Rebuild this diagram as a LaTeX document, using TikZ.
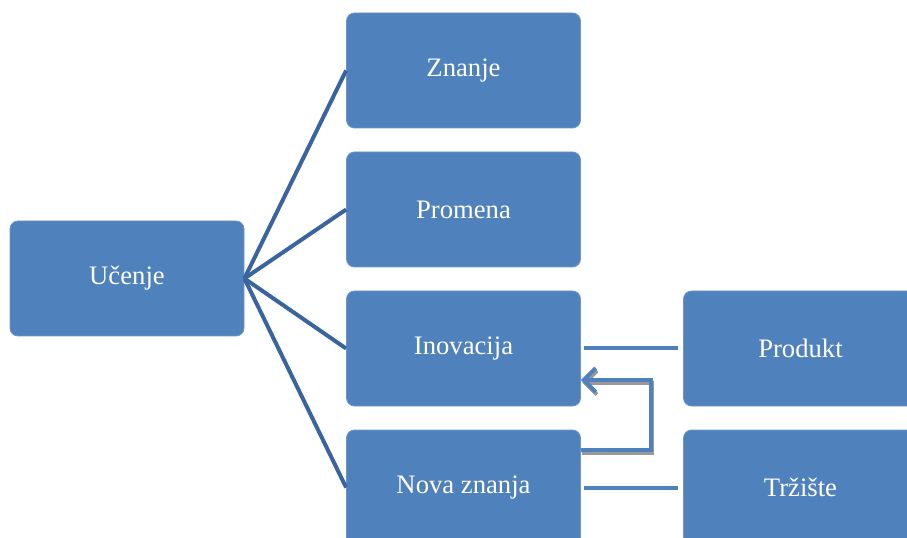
\documentclass[tikz,border=0pt]{standalone}
\usepackage{fontspec}
\setmainfont{Liberation Serif}
\usetikzlibrary{arrows.meta}

\definecolor{boxblue}{RGB}{79,129,189}
\definecolor{boxedge}{RGB}{110,150,205}
\definecolor{linkblue}{RGB}{58,100,160}

\begin{document}
\begin{tikzpicture}[
  x=0.75pt, y=-0.75pt,
  every node/.style={font=\fontsize{20}{24}\selectfont},
  box/.style={fill=boxblue, draw=boxedge, line width=0.6pt, rounded corners=6pt,
    minimum width=175.5pt, minimum height=86.25pt, text=white, align=center},
  branch/.style={draw=linkblue, line width=3pt},
  link/.style={draw=boxblue, line width=3pt},
  feedback/.style={draw=boxblue, line width=3pt, -{Straight Barb[length=9pt,width=18pt]},
    preaction={draw=black!40, line width=3pt, transform canvas={shift={(1pt,-2pt)}}}}
]
  \clip (0,0) rectangle (907,538);
  \node[box] (ucenje) at (127,278.5) {Učenje};
  \node[box] (znanje) at (463.5,70.5) {Znanje};
  \node[box] (promena) at (463.5,209.5) {Promena};
  \node[box] (inov) at (463.5,348.5) {Inovacija};
  \node[box] (nova) at (463.5,487.5) {Nova znanja};
  \node[box] (produkt) at (800.5,348.5) {Produkt};
  \node[box] (trziste) at (800.5,487.5) {Tržište};
  \coordinate (fbLow) at (651,450);
  \coordinate (fbHigh) at (651,380);

  \draw[branch] (ucenje.east) -- (znanje.west);
  \draw[branch] (ucenje.east) -- (promena.west);
  \draw[branch] (ucenje.east) -- (inov.west);
  \draw[branch] (ucenje.east) -- (nova.west);
  \draw[link] ([xshift=2pt]inov.east) -- ([xshift=-4pt]produkt.west);
  \draw[link] ([xshift=2pt]nova.east) -- ([xshift=-4pt]trziste.west);
  \draw[feedback] (nova.east |- fbLow) -- (fbLow) -- (fbHigh) -- (inov.east |- fbHigh);
\end{tikzpicture}
\end{document}
